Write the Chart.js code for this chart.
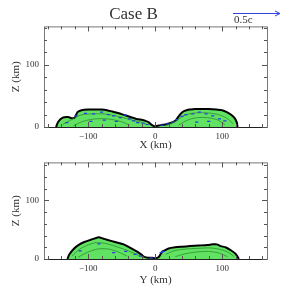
<!DOCTYPE html>
<html>
<head>
<meta charset="utf-8">
<script src="https://cdn.jsdelivr.net/npm/chart.js@4.4.0/dist/chart.umd.min.js"></script>
<style>
  body { margin: 0; background: #fff; }
  .panel { position: absolute; left: 0; width: 291px; }
</style>
</head>
<body>
<div class="panel" style="top:0px;height:152px"><canvas id="xzChart" width="291" height="152"></canvas></div>
<div class="panel" style="top:152px;height:139px"><canvas id="yzChart" width="291" height="139"></canvas></div>
<script>
// outline of the green region, X-Z slice (km)
const xzLeftX = [-148, -145, -138, -130, -124, -120, -116, -110, -100, -90, -80, -72, -64, -57, -48, -37, -28, -22, -15, -10, -6, -3, 0];
const xzLeftZ = [0, 8, 15, 16, 14, 15, 24, 27, 28, 28, 28, 27, 25, 23, 20, 16, 13, 12, 10, 8, 4, 2, 0];
const xzRightX = [-6, 0, 8, 15, 22, 30, 37, 42, 47, 52, 60, 70, 80, 92, 100, 107, 113, 119, 122, 123];
const xzRightZ = [0, 1, 3, 4, 6, 10, 20, 25, 27, 28, 29, 29, 29, 28, 27, 24, 20, 14, 7, 0];

// outline, Y-Z slice (km)
const yzLeftX = [-131, -128, -121, -113, -106, -96, -88, -84, -78, -72, -60, -47, -37, -27, -20, -17, -10, -4, 0];
const yzLeftZ = [0, 8, 18, 25, 29, 33, 36, 37, 35, 33, 29, 25, 19, 12.5, 7, 4, 2, 2, 1];
const yzRightX = [0, 5, 8, 10, 13, 20, 30, 40, 52, 65, 78, 86, 92, 98, 105, 113, 120, 123, 125];
const yzRightZ = [1, 3, 8, 12, 14, 18, 20, 21, 22, 23, 24, 25, 25, 22, 20, 15, 9, 4, 0];

// inner contour lines (rough reads)
const xzC1X = [-138, -128, -112, -95, -75, -55, -38, -22, -12];
const xzC1Z = [4, 10, 19, 21, 21, 17, 12, 8, 4];
const xzC2X = [-122, -108, -90, -70, -52, -38];
const xzC2Z = [2, 9, 13, 13, 9, 3];
const xzC3X = [18, 32, 42, 55, 70, 85, 100, 110, 116];
const xzC3Z = [3, 10, 18, 22, 23, 22, 18, 12, 5];
const xzC4X = [35, 48, 62, 78, 92, 104];
const xzC4Z = [3, 11, 15, 15, 12, 4];

const yzC1X = [-124, -114, -100, -88, -72, -55, -40, -26, -16];
const yzC1Z = [5, 16, 24, 28, 26, 20, 14, 7, 3];
const yzC2X = [-115, -102, -86, -70, -55, -42];
const yzC2Z = [3, 11, 17, 17, 12, 5];
const yzC3X = [16, 28, 45, 62, 80, 95, 108, 118];
const yzC3Z = [8, 14, 17, 18, 19, 17, 12, 4];
const yzC4X = [30, 45, 62, 80, 96, 108];
const yzC4Z = [4, 9, 12, 13, 10, 4];

// blue velocity marks
const xzArrowX = [-132, -118, -104, -92, -80, -70, -62, -52, -45, -38, -32, -26, -18, -12, -96, -76, -58, 10, 18, 26, 32, 40, 46, 56, 66, 76, 86, 62, 80, 96, 104];
const xzArrowZ = [7, 18, 22, 21, 24, 20, 18, 15, 19, 13, 10, 7, 6, 4, 9, 11, 9, 3, 5, 8, 12, 17, 20, 21, 24, 21, 18, 8, 9, 13, 10];
const yzArrowX = [-112, -84, -62, -44, -30, -22, 9, 12, -6];
const yzArrowZ = [14, 26, 11, 13, 8, 5, 11, 13, 2];

const xTicks = [-100, 0, 100];

function pts(xs, zs) {
    return xs.map((x, i) => ({ x: x, y: zs[i] }));
}

function lobe(xs, zs) {
    return {
        data: pts(xs, zs),
        borderColor: '#000',
        borderWidth: 2,
        backgroundColor: '#62e262',
        fill: 'origin',
        pointRadius: 0,
        tension: 0.25,
        order: 3
    };
}

function contour(xs, zs) {
    return {
        data: pts(xs, zs),
        borderColor: '#2f8f2f',
        borderWidth: 0.8,
        fill: false,
        pointRadius: 0,
        tension: 0.3,
        order: 2
    };
}

function arrows(xs, zs) {
    return {
        type: 'scatter',
        data: pts(xs, zs),
        pointStyle: 'line',
        pointRadius: 1.6,
        borderColor: '#2a3ee0',
        borderWidth: 1.2,
        backgroundColor: '#2a3ee0',
        order: 1
    };
}

// inward ticks on all four sides + frame
const frameTicks = {
    id: 'frameTicks',
    afterDraw(chart) {
        const ctx = chart.ctx, a = chart.chartArea;
        const sx = chart.scales.x, sy = chart.scales.y;
        ctx.save();
        ctx.strokeStyle = '#777';
        ctx.lineWidth = 1;
        ctx.strokeRect(a.left + 0.5, a.top + 0.5, a.right - a.left, a.bottom - a.top);
        ctx.strokeStyle = '#222';
        ctx.beginPath();
        ctx.moveTo(a.left, a.bottom + 0.5);
        ctx.lineTo(a.right, a.bottom + 0.5);
        ctx.stroke();
        ctx.strokeStyle = '#555';
        ctx.beginPath();
        for (let v = -160; v <= 160; v += 20) {
            const px = Math.round(sx.getPixelForValue(v)) + 0.5;
            const len = v % 100 === 0 ? 5 : 3;
            ctx.moveTo(px, a.bottom); ctx.lineTo(px, a.bottom - len);
            ctx.moveTo(px, a.top); ctx.lineTo(px, a.top + len);
        }
        for (let v = 0; v <= 160; v += 20) {
            const py = Math.round(sy.getPixelForValue(v)) + 0.5;
            const len = v % 100 === 0 ? 5 : 3;
            ctx.moveTo(a.left, py); ctx.lineTo(a.left + len, py);
            ctx.moveTo(a.right, py); ctx.lineTo(a.right - len, py);
        }
        ctx.stroke();
        ctx.restore();
    }
};

// 0.5c velocity key, top panel only
const velocityKey = {
    id: 'velocityKey',
    afterDraw(chart) {
        const ctx = chart.ctx;
        ctx.save();
        ctx.strokeStyle = '#3344dd';
        ctx.fillStyle = '#3344dd';
        ctx.lineWidth = 1;
        ctx.beginPath();
        ctx.moveTo(233, 13.5);
        ctx.lineTo(279, 13.5);
        ctx.moveTo(275, 11);
        ctx.lineTo(280, 13.5);
        ctx.lineTo(275, 16);
        ctx.stroke();
        ctx.fillStyle = '#333';
        ctx.font = '11px "Liberation Serif", serif';
        ctx.textBaseline = 'alphabetic';
        ctx.fillText('0.5c', 234, 23);
        ctx.restore();
    }
};

function createChart(canvasId, opts) {
    const ctx = document.getElementById(canvasId).getContext('2d');
    return new Chart(ctx, {
        type: 'line',
        data: { datasets: opts.datasets },
        options: {
            responsive: false,
            animation: false,
            layout: { padding: { top: opts.padTop, right: 24, left: 0, bottom: 0 } },
            plugins: {
                legend: { display: false },
                tooltip: { enabled: false },
                title: opts.title ? {
                    display: true,
                    text: opts.title,
                    color: '#333',
                    font: { family: '"Liberation Serif", serif', size: 17, weight: 'normal' },
                    padding: { top: 4, bottom: 2 }
                } : { display: false }
            },
            scales: {
                x: {
                    type: 'linear',
                    min: -166,
                    max: 167,
                    grid: { display: false, drawTicks: false },
                    border: { display: false },
                    afterFit: s => { s.height = opts.xHeight; },
                    afterBuildTicks: s => { s.ticks = xTicks.map(v => ({ value: v })); },
                    ticks: {
                        padding: 4,
                        color: '#333',
                        font: { family: '"Liberation Serif", serif', size: 9 },
                        callback: v => (v < 0 ? '\u2212' + Math.abs(v) : String(v))
                    },
                    title: {
                        display: true,
                        text: opts.xTitle,
                        color: '#333',
                        font: { family: '"Liberation Serif", serif', size: 11 },
                        padding: { top: 0, bottom: opts.xTitleBottom }
                    }
                },
                y: {
                    type: 'linear',
                    min: 0,
                    max: opts.zMax,
                    grid: { display: false, drawTicks: false },
                    border: { display: false },
                    afterFit: s => { s.width = 44; },
                    afterBuildTicks: s => { s.ticks = [{ value: 0 }, { value: 100 }]; },
                    ticks: {
                        padding: 5,
                        color: '#333',
                        font: { family: '"Liberation Serif", serif', size: 9 }
                    },
                    title: {
                        display: true,
                        text: 'Z (km)',
                        color: '#333',
                        font: { family: '"Liberation Serif", serif', size: 11 },
                        padding: { top: 10, bottom: 0 }
                    }
                }
            }
        },
        plugins: opts.plugins
    });
}

createChart('xzChart', {
    title: 'Case B',
    xTitle: 'X (km)',
    zMax: 162,
    padTop: 0,
    xHeight: 25,
    xTitleBottom: 0,
    datasets: [
        lobe(xzLeftX, xzLeftZ), lobe(xzRightX, xzRightZ),
        contour(xzC1X, xzC1Z), contour(xzC2X, xzC2Z), contour(xzC3X, xzC3Z), contour(xzC4X, xzC4Z),
        arrows(xzArrowX, xzArrowZ)
    ],
    plugins: [frameTicks, velocityKey]
});

createChart('yzChart', {
    title: null,
    xTitle: 'Y (km)',
    zMax: 165,
    padTop: 6,
    xHeight: 32,
    xTitleBottom: 4,
    datasets: [
        lobe(yzLeftX, yzLeftZ), lobe(yzRightX, yzRightZ),
        contour(yzC1X, yzC1Z), contour(yzC2X, yzC2Z), contour(yzC3X, yzC3Z), contour(yzC4X, yzC4Z),
        arrows(yzArrowX, yzArrowZ)
    ],
    plugins: [frameTicks]
});
</script>
</body>
</html>
